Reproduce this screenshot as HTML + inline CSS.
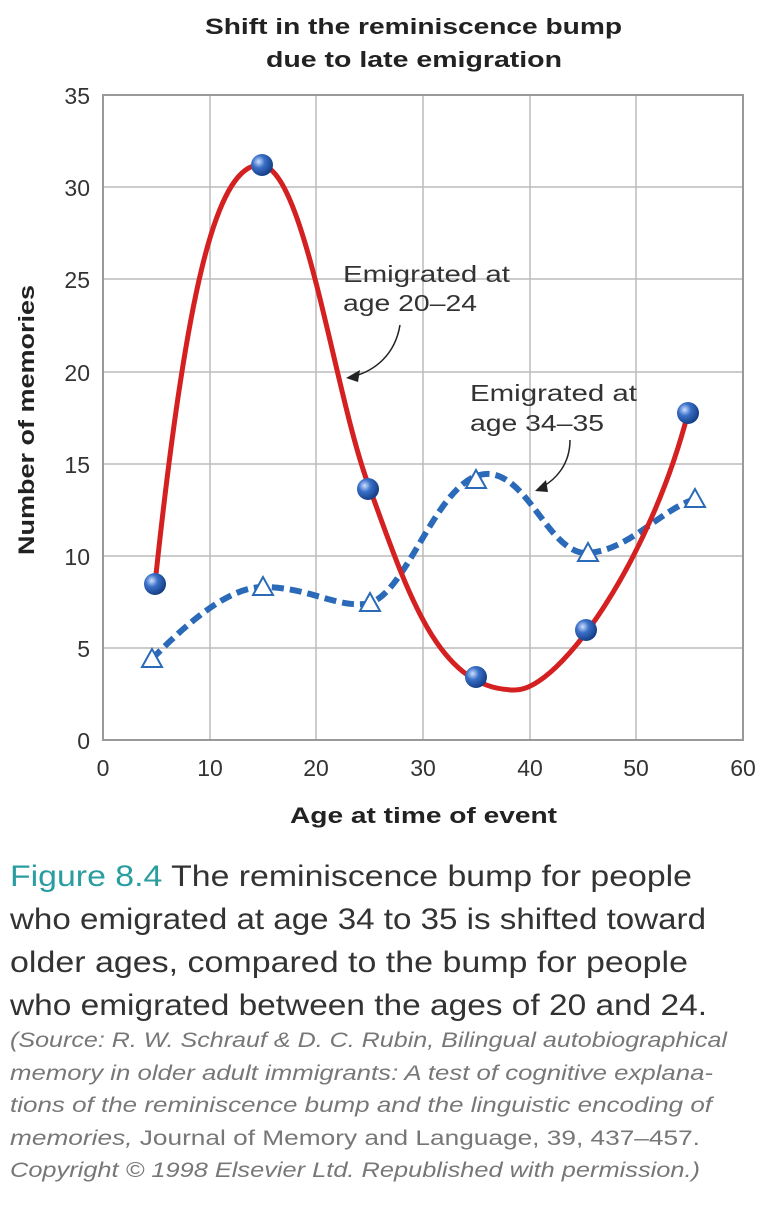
<!DOCTYPE html>
<html><head><meta charset="utf-8"><style>
body{margin:0;background:#fff;width:772px;height:1200px;overflow:hidden;font-family:"Liberation Sans",Arial,sans-serif}
</style></head><body>
<svg width="772" height="1200" xmlns="http://www.w3.org/2000/svg" font-family="Liberation Sans, Arial, sans-serif">
<text x="205" y="34" font-size="22" font-weight="bold" fill="#222" textLength="417" lengthAdjust="spacingAndGlyphs">Shift in the reminiscence bump</text>
<text x="266" y="67" font-size="22" font-weight="bold" fill="#222" textLength="296" lengthAdjust="spacingAndGlyphs">due to late emigration</text>
<g stroke="#bbb" stroke-width="1.5">
<line x1="210" y1="95" x2="210" y2="740"/><line x1="316" y1="95" x2="316" y2="740"/><line x1="423" y1="95" x2="423" y2="740"/><line x1="530" y1="95" x2="530" y2="740"/><line x1="636" y1="95" x2="636" y2="740"/>
<line x1="103" y1="648" x2="743" y2="648"/><line x1="103" y1="556" x2="743" y2="556"/><line x1="103" y1="464" x2="743" y2="464"/><line x1="103" y1="372" x2="743" y2="372"/><line x1="103" y1="279" x2="743" y2="279"/><line x1="103" y1="187" x2="743" y2="187"/>
</g>
<rect x="103" y="95" width="640" height="645" fill="none" stroke="#999" stroke-width="2"/>
<g font-size="23" fill="#333" text-anchor="end">
<text x="90" y="749">0</text><text x="90" y="657">5</text><text x="90" y="565">10</text><text x="90" y="473">15</text><text x="90" y="381">20</text><text x="90" y="288">25</text><text x="90" y="196">30</text><text x="90" y="104">35</text>
</g>
<g font-size="23" fill="#333" text-anchor="middle">
<text x="103" y="776">0</text><text x="210" y="776">10</text><text x="316" y="776">20</text><text x="423" y="776">30</text><text x="530" y="776">40</text><text x="636" y="776">50</text><text x="743" y="776">60</text>
</g>
<text x="290" y="823" font-size="22" font-weight="bold" fill="#222" textLength="267" lengthAdjust="spacingAndGlyphs">Age at time of event</text>
<text transform="translate(34,555) rotate(-90)" font-size="22" font-weight="bold" fill="#222" textLength="270" lengthAdjust="spacingAndGlyphs">Number of memories</text>
<path d="M152,659 C190,620 230,587 263,587 C310,587 340,610 370,603 C410,590 440,470 490,474 C530,478 550,555 588,553 C630,550 660,510 695,499" fill="none" stroke="#2a6ab8" stroke-width="6" stroke-dasharray="12,6"/>
<path d="M155,584 C185,300 215,165 260,165 C305,165 335,400 370,489 C410,600 440,690 515,690 C560,690 650,560 688,413" fill="none" stroke="#d42020" stroke-width="5"/>
<g fill="#fff" stroke="#2a6ab8" stroke-width="2">
<polygon points="152,649 142,667 162,667"/><polygon points="263,577 253,595 273,595"/><polygon points="370,593 360,611 380,611"/><polygon points="476,470 466,488 486,488"/><polygon points="588,543 578,561 598,561"/><polygon points="695,489 685,507 705,507"/>
</g>
<defs><radialGradient id="g" cx="0.35" cy="0.35" r="0.7"><stop offset="0" stop-color="#cfe0ff"/><stop offset="0.4" stop-color="#3a70c8"/><stop offset="1" stop-color="#123a80"/></radialGradient></defs>
<g fill="url(#g)">
<circle cx="155" cy="584" r="11"/><circle cx="262" cy="165" r="11"/><circle cx="368" cy="489" r="11"/><circle cx="476" cy="677" r="11"/><circle cx="586" cy="630" r="11"/><circle cx="688" cy="413" r="11"/>
</g>
<g font-size="23" fill="#333" lengthAdjust="spacingAndGlyphs">
<text x="343" y="282" textLength="167" lengthAdjust="spacingAndGlyphs">Emigrated at</text><text x="343" y="311" textLength="134" lengthAdjust="spacingAndGlyphs">age 20–24</text>
<text x="470" y="401" textLength="167" lengthAdjust="spacingAndGlyphs">Emigrated at</text><text x="470" y="431" textLength="134" lengthAdjust="spacingAndGlyphs">age 34–35</text>
</g>
<path d="M400,325 C395,355 375,370 355,376" fill="none" stroke="#222" stroke-width="1.5"/>
<polygon points="346,378 360,370 358,382" fill="#222"/>
<path d="M570,440 C570,465 555,480 542,487" fill="none" stroke="#222" stroke-width="1.5"/>
<polygon points="535,491 546,480 548,492" fill="#222"/>
<g font-size="30" fill="#333">
<text x="10" y="886" textLength="682" lengthAdjust="spacingAndGlyphs"><tspan fill="#2a9da0">Figure 8.4</tspan> The reminiscence bump for people</text>
<text x="10" y="929" textLength="696" lengthAdjust="spacingAndGlyphs">who emigrated at age 34 to 35 is shifted toward</text>
<text x="10" y="972" textLength="678" lengthAdjust="spacingAndGlyphs">older ages, compared to the bump for people</text>
<text x="10" y="1015" textLength="697" lengthAdjust="spacingAndGlyphs">who emigrated between the ages of 20 and 24.</text>
</g>
<g font-size="21" fill="#777" font-style="italic">
<text x="10" y="1047" textLength="717" lengthAdjust="spacingAndGlyphs">(Source: R. W. Schrauf &amp; D. C. Rubin, Bilingual autobiographical</text>
<text x="10" y="1080" textLength="703" lengthAdjust="spacingAndGlyphs">memory in older adult immigrants: A test of cognitive explana-</text>
<text x="10" y="1112" textLength="702" lengthAdjust="spacingAndGlyphs">tions of the reminiscence bump and the linguistic encoding of</text>
<text x="10" y="1145" textLength="690" lengthAdjust="spacingAndGlyphs">memories, <tspan font-style="normal">Journal of Memory and Language, 39, 437–457.</tspan></text>
<text x="10" y="1177" textLength="690" lengthAdjust="spacingAndGlyphs">Copyright © 1998 Elsevier Ltd. Republished with permission.)</text>
</g>
</svg>
</body></html>
